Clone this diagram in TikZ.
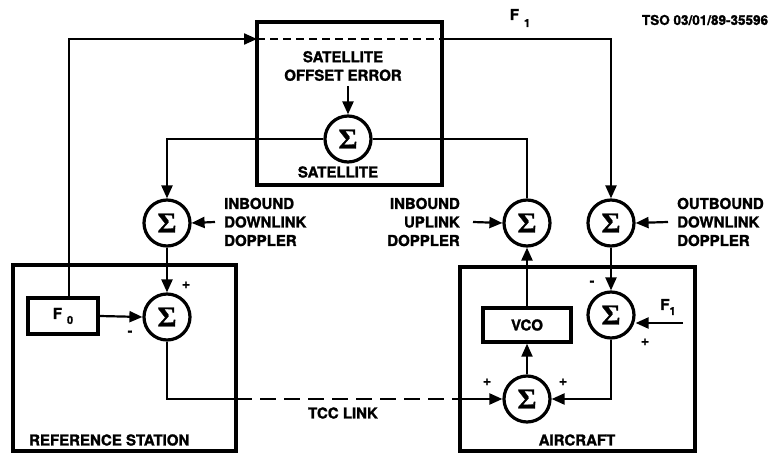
\documentclass[tikz,border=0pt]{standalone}
\usepackage{fontspec}
\setmainfont{TeX Gyre Heros}[BoldFeatures={FakeBold=1.5}]
\newfontfamily\sigfont{Liberation Serif}[BoldFeatures={FakeBold=1.2}]
\usetikzlibrary{arrows.meta}
\begin{document}
\begin{tikzpicture}[x=1pt,y=-1pt,
  conn/.style={line width=2.2pt},
  arr/.style={conn,-{Triangle[length=13pt,width=11pt]}},
  sum/.style={circle,draw,line width=3.2pt,minimum size=46pt,inner sep=0pt,
    font=\sigfont\bfseries\fontsize{29}{29}\selectfont},
  bigbox/.style={draw,line width=3.4pt,inner sep=0pt},
  smallbox/.style={draw,line width=3.4pt,inner sep=0pt,font=\bfseries\fontsize{15}{15}\selectfont},
  lbl/.style={font=\bfseries\fontsize{15}{18.5}\selectfont,inner sep=0pt},
  sign/.style={font=\bfseries\fontsize{14}{14}\selectfont,inner sep=0pt}]
\useasboundingbox (0,0) rectangle (779,454);
% big boxes
\node[bigbox,minimum width=185pt,minimum height=163pt] (sat) at (349.5,103.5) {};
\node[bigbox,minimum width=223pt,minimum height=186pt] (ref) at (124.5,358) {};
\node[bigbox,minimum width=235pt,minimum height=184pt] (ac) at (577.5,359) {};
% summers
\node[sum] (ss) at (348,139) {Σ};
\node[sum] (sid) at (167,223) {Σ};
\node[sum] (siu) at (527,223) {Σ};
\node[sum] (sod) at (611,223) {Σ};
\node[sum] (sref) at (167,317) {Σ};
\node[sum] (sar) at (611,315) {Σ};
\node[sum] (sab) at (527,399) {Σ};
% small boxes
\node[smallbox,minimum width=70pt,minimum height=36pt] (F0) at (63,316) {F\hspace{5pt}\raisebox{-5pt}{\fontsize{11}{11}\selectfont 0}};
\node[smallbox,minimum width=88pt,minimum height=34pt] (vco) at (527,325) {VCO};
% labels
\node[lbl,align=center] (satlbl) at (343,66) {SATELLITE\\OFFSET ERROR};
\node[lbl] (satname) at (338,172) {SATELLITE};
\node[lbl,align=left,anchor=west] (lid) at (224,222) {INBOUND\\DOWNLINK\\DOPPLER};
\node[lbl,align=right,anchor=east] (liu) at (460,222) {INBOUND\\UPLINK\\DOPPLER};
\node[lbl,align=left,anchor=west] (lod) at (677,222) {OUTBOUND\\DOWNLINK\\DOPPLER};
\node[lbl,anchor=west] (refname) at (29,440) {REFERENCE STATION};
\node[lbl] (acname) at (577,440) {AIRCRAFT};
\node[lbl] (tcc) at (343,413) {TCC LINK};
\node[lbl] (f1top) at (520,18) {F\hspace{5pt}\raisebox{-7pt}{\fontsize{11}{11}\selectfont 1}};
\node[lbl] (f1ac) at (668,307) {F\raisebox{-5pt}{\fontsize{11}{11}\selectfont 1}};
\node[font=\bfseries\fontsize{13.5}{13.5}\selectfont,inner sep=0pt] (tso) at (705,20) {TSO 03/01/89-35596};
% signs
\node[sign] (p1) at (186,285) {+};
\node[sign] (m1) at (130,333) {-};
\node[sign] (m2) at (592,283) {-};
\node[sign] (p2) at (645,342) {+};
\node[sign] (p3) at (487,382) {+};
\node[sign] (p4) at (563,382) {+};
% coordinates
\coordinate (tl) at (257,39);
\coordinate (tr) at (442,39);
\coordinate (f0up) at (69,298);
\coordinate (f1s) at (683,323);
\coordinate (refr) at (236,399);
\coordinate (acl) at (460,399);
% connectors
\draw[arr] (f0up) |- (tl);
\draw[conn,dash pattern=on 8pt off 5pt] (tl) -- (tr);
\draw[arr] (tr) -| (sod.north);
\draw[arr] ([yshift=-5pt]satlbl.south -| ss.north) -- (ss.north);
\draw[arr] (ss.west) -| (sid.north);
\draw[conn] (ss.east) -| (siu.north);
\draw[arr] ([xshift=-9pt]lid.west) -- (sid.east);
\draw[arr] ([xshift=13pt]liu.east) -- (siu.west);
\draw[arr] ([xshift=-9pt]lod.west) -- (sod.east);
\draw[arr] (sid.south) -- (sref.north);
\draw[arr] (F0.east) -- (sref.west);
\draw[conn] (sref.south) |- (refr);
\draw[conn,dash pattern=on 16pt off 8pt] (refr) -- (acl);
\draw[arr] (acl) -- (sab.west);
\draw[arr] (sab.north) -- (vco.south);
\draw[arr] (vco.north) -- (siu.south);
\draw[arr] (sod.south) -- (sar.north);
\draw[arr] (f1s) -- (sar.east |- f1s);
\draw[arr] (sar.south) |- (sab.east);
\end{tikzpicture}
\end{document}
